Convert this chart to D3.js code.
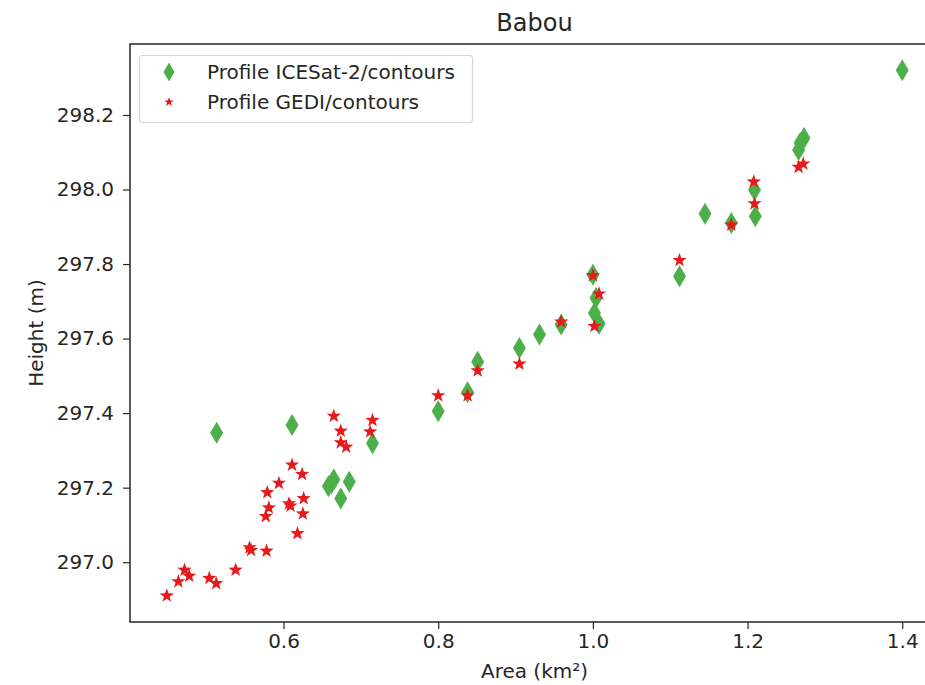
<!DOCTYPE html>
<html>
<head>
<meta charset="utf-8">
<script src="https://cdn.jsdelivr.net/npm/d3@7"></script>
<style>
  body { margin: 0; background: #fff; }
  text { font-family: "DejaVu Sans", sans-serif; fill: #262626; }
</style>
</head>
<body>
<div id="viz-container"></div>
<script>
// Data
const iceX = [0.5135, 0.611, 0.715, 0.665, 0.658, 0.662, 0.685, 0.674, 0.800, 0.838, 0.851, 0.905, 0.931,
  0.959, 1.000, 1.004, 1.002, 1.008, 1.112, 1.145, 1.179, 1.209, 1.210, 1.266, 1.268, 1.273, 1.400];
const iceY = [297.347, 297.368, 297.319, 297.222, 297.204, 297.212, 297.216, 297.171, 297.405, 297.456, 297.538,
  297.575, 297.611, 297.638, 297.771, 297.709, 297.669, 297.640, 297.767, 297.935, 297.910, 297.999, 297.928,
  298.106, 298.125, 298.138, 298.320];

const gediX = [0.665, 0.715, 0.674, 0.712, 0.674, 0.681, 0.611, 0.624, 0.594, 0.579, 0.626, 0.607, 0.609,
  0.581, 0.625, 0.577, 0.618, 0.556, 0.558, 0.578, 0.538, 0.472, 0.478, 0.464, 0.504, 0.513, 0.449,
  0.800, 0.838, 0.851, 0.905, 0.959, 1.002, 1.008, 1.000, 1.112, 1.179, 1.208, 1.209, 1.266, 1.272];
const gediY = [297.392, 297.381, 297.352, 297.350, 297.321, 297.309, 297.261, 297.236, 297.212, 297.187,
  297.171, 297.157, 297.151, 297.146, 297.130, 297.123, 297.077, 297.039, 297.032, 297.030, 296.979,
  296.979, 296.963, 296.948, 296.957, 296.943, 296.910,
  297.447, 297.447, 297.514, 297.532, 297.645, 297.633, 297.720, 297.769, 297.810, 297.905, 298.021,
  297.962, 298.060, 298.069];

const xTicks = [0.6, 0.8, 1.0, 1.2, 1.4];
const yTicks = [297.0, 297.2, 297.4, 297.6, 297.8, 298.0, 298.2];
const seriesNames = ["Profile ICESat-2/contours", "Profile GEDI/contours"];

const W = 925, H = 685;
const mLeft = 130, mRight = 939, mTop = 44, mBottom = 622;

const svg = d3.select("#viz-container").append("svg")
  .attr("width", W).attr("height", H);

// matplotlib-style 5% margins
const xMin = d3.min([...iceX, ...gediX]), xMax = d3.max([...iceX, ...gediX]);
const yMin = d3.min([...iceY, ...gediY]), yMax = d3.max([...iceY, ...gediY]);
const xPad = (xMax - xMin) * 0.05, yPad = (yMax - yMin) * 0.05;

const x = d3.scaleLinear().domain([xMin - xPad, xMax + xPad]).range([mLeft, mRight]);
const y = d3.scaleLinear().domain([yMin - yPad, yMax + yPad]).range([mBottom, mTop]);

const green = "#4daf4a", red = "#e41a1c";
const diamond = (w, h) => `M0,${-h / 2}L${w / 2},0L0,${h / 2}L${-w / 2},0Z`;
const star = (ro) => {
  const ri = ro * 0.4;
  let p = "";
  for (let i = 0; i < 10; i++) {
    const r = i % 2 ? ri : ro;
    const a = -Math.PI / 2 + i * Math.PI / 5;
    p += (i ? "L" : "M") + (r * Math.cos(a)).toFixed(2) + "," + (r * Math.sin(a)).toFixed(2);
  }
  return p + "Z";
};

// Axes
const xAxis = svg.append("g").attr("transform", `translate(0,${mBottom})`)
  .call(d3.axisBottom(x).tickValues(xTicks).tickFormat(d3.format(".1f")).tickSizeOuter(0).tickSize(7).tickPadding(5));
const yAxis = svg.append("g").attr("transform", `translate(${mLeft},0)`)
  .call(d3.axisLeft(y).tickValues(yTicks).tickFormat(d3.format(".1f")).tickSizeOuter(0).tickSize(7).tickPadding(9));
[xAxis, yAxis].forEach(a => {
  a.select(".domain").remove();
  a.selectAll("line").attr("stroke", "#262626").attr("stroke-width", 1.2);
  a.selectAll("text").style("font-size", "20px").attr("fill", "#262626");
});

// Frame
svg.append("rect").attr("x", mLeft).attr("y", mTop)
  .attr("width", mRight - mLeft).attr("height", mBottom - mTop)
  .attr("fill", "none").attr("stroke", "#262626").attr("stroke-width", 1.5);

// Points
svg.append("g").selectAll("path").data(iceX.map((d, i) => [d, iceY[i]])).enter()
  .append("path")
  .attr("d", diamond(13, 22))
  .attr("transform", d => `translate(${x(d[0])},${y(d[1])})`)
  .style("fill", green);

svg.append("g").selectAll("path").data(gediX.map((d, i) => [d, gediY[i]])).enter()
  .append("path")
  .attr("d", star(7.5))
  .attr("transform", d => `translate(${x(d[0])},${y(d[1])})`)
  .style("fill", red);

// Title and labels
svg.append("text").attr("x", (mLeft + mRight) / 2).attr("y", 31)
  .attr("text-anchor", "middle").style("font-size", "24px").text("Babou");
svg.append("text").attr("x", (mLeft + mRight) / 2).attr("y", 678)
  .attr("text-anchor", "middle").style("font-size", "20px").text("Area (km²)");
svg.append("text").attr("transform", "translate(43,333) rotate(-90)")
  .attr("text-anchor", "middle").style("font-size", "20px").text("Height (m)");

// Legend
const lg = svg.append("g");
lg.append("rect").attr("x", 139.5).attr("y", 55.5).attr("width", 333).attr("height", 67).attr("rx", 3)
  .attr("fill", "#fff").attr("fill-opacity", 0.8).attr("stroke", "#d5d5d5").attr("stroke-width", 1.2);
lg.append("path").attr("d", diamond(11, 19)).attr("transform", "translate(169,72)").style("fill", green);
lg.append("path").attr("d", star(5)).attr("transform", "translate(169,102)").style("fill", red);
lg.selectAll("text.lab").data(seriesNames).enter().append("text")
  .attr("class", "lab").attr("x", 207).attr("y", (d, i) => 79 + i * 30)
  .style("font-size", "20px").text(d => d);
</script>
</body>
</html>
